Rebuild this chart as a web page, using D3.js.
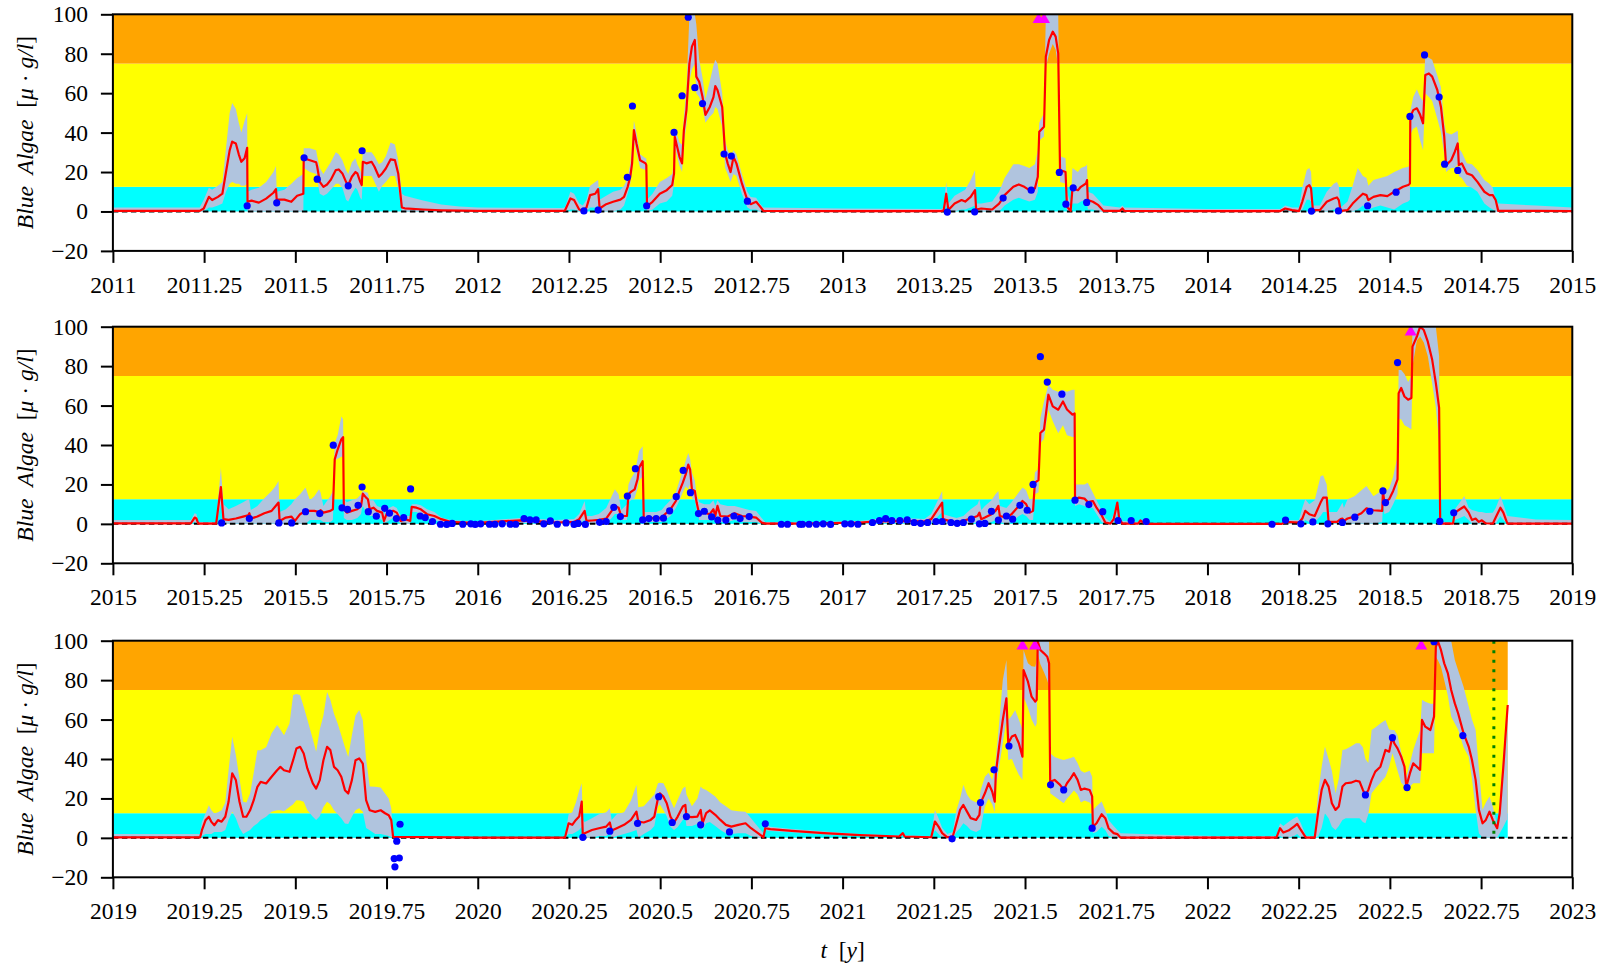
<!DOCTYPE html>
<html><head><meta charset="utf-8">
<script src="https://cdn.jsdelivr.net/npm/d3@7"></script>
<style>body{margin:0;background:#fff}</style>
</head><body>
<svg id="c" width="1603" height="965"></svg>
<script>
// ---------- data ----------
const panelRanges = [[2011, 2015], [2015, 2019], [2019, 2023]];
const yTickValues = [-20, 0, 20, 40, 60, 80, 100];
const bandLevels = [0, 12.5, 75, 100];
const bandColors = ["#00FFFF", "#FFFF00", "#FFA500"];
const dataEnd = 2022.823;
const forecastStart = 2022.785;
const exceedT = [2013.537, 2013.552, 2018.557, 2021.493, 2021.527, 2022.586];
const exceedLevel = 97.3;

// model run rows: [time, mean, lower, upper]
const run1 = [
[2011.000,0.3,0,2],[2011.238,0.3,0,2],[2011.249,1.5,0,6],[2011.263,7.4,2,12],[2011.272,5.8,2,11],
[2011.288,7.4,3,13],[2011.300,9,4,15],[2011.310,20,10,32],[2011.320,31,14,50],[2011.327,35.4,15,55],
[2011.337,34.5,14,52],[2011.345,29,14,45],[2011.352,25.2,13,40],[2011.361,27,13,46],[2011.368,32.3,14,50],
[2011.369,4.9,0,10],[2011.380,5.5,0,11],[2011.400,4.5,0,12],[2011.420,6.5,0,15],[2011.440,9.5,0,20],
[2011.447,11.3,0,23],[2011.449,6,0,10],[2011.470,6,0,11],[2011.489,4.9,0,14],[2011.505,8,0,17],
[2011.522,9,0,19],[2011.523,27,22,32],[2011.540,26,20,32],[2011.557,25,19,31],[2011.560,22.7,16,28],
[2011.567,15,9,22],[2011.577,12.5,8,19],[2011.587,13.7,9,22],[2011.597,16,11,25],[2011.611,21,14,30],
[2011.619,21.3,14,29],[2011.629,19.3,12,26],[2011.639,15,6,21],[2011.645,13.4,5,19],[2011.655,17.6,9,25],
[2011.665,20,12,27],[2011.670,19.3,11,24],[2011.678,15,7,21],[2011.682,13.4,6,19],[2011.685,25.2,18,31],
[2011.695,24.4,18,30],[2011.709,25.2,18,30],[2011.717,22.7,15,28],[2011.729,17.6,10,24],[2011.738,19.3,13,25],
[2011.748,21.8,15,28],[2011.761,26.4,18,35],[2011.773,26,18,34],[2011.782,19.3,12,26],[2011.792,2,0,9],
[2011.800,1.6,0,8],[2011.850,1,0,5.5],[2011.900,0.6,0,3.5],[2011.950,0.4,0,2.5],[2012.000,0.3,0,2],
[2012.230,0.3,0,1.8],[2012.239,0.5,0,2],[2012.254,6.6,1,10],[2012.264,5.8,1,9],[2012.278,1,0,4],
[2012.288,0.3,0,3],[2012.298,2,0,6],[2012.308,8.3,2,13],[2012.322,9,2,15],[2012.330,11.3,3,16],
[2012.334,1.5,0,6],[2012.352,3.7,0,8],[2012.371,4.9,0,10],[2012.391,6,1,11],[2012.401,7.4,3,13],
[2012.411,12.5,9,17],[2012.418,17.6,14,24],[2012.423,24.4,20,32],[2012.428,41.3,36,46],[2012.435,34.5,30,40],
[2012.445,26,22,29],[2012.460,24.4,21,27],[2012.462,23.5,20,27],[2012.464,2.7,0,6],[2012.479,4.9,1,9],
[2012.499,9,4,15],[2012.518,10.8,5,17],[2012.533,13.4,8,19],[2012.538,19.3,14,26],[2012.540,37.9,33,43],
[2012.553,27.7,23,35],[2012.560,24.4,20,34],[2012.565,41.3,35,48],[2012.572,51.4,44,62],[2012.580,75,66,99],
[2012.587,83.6,72,100],[2012.595,87,75,100],[2012.599,68.4,60,95],[2012.607,65.8,58,77],[2012.616,58.2,53,68],
[2012.624,49,45,57],[2012.636,53,48,66],[2012.646,58,50,74],[2012.651,63.6,53,77],[2012.657,61.6,52,75],
[2012.670,53,43,60],[2012.678,29.4,22,36],[2012.685,24.4,19,31],[2012.693,20,15,28],[2012.701,27.7,19,31],
[2012.709,24.4,18,29],[2012.724,14.2,9,19],[2012.739,5.8,2,10],[2012.748,3.7,1,7.4],[2012.763,4.9,1,7],
[2012.773,2.7,0,4],[2012.783,0.3,0,2],[2013.000,0.2,0,1.5],[2013.270,0.2,0,1.2],[2013.277,0.5,0,2],
[2013.284,9,3,15],[2013.290,0.7,0,4],[2013.307,4,0,8],[2013.326,5.8,1,10],[2013.336,5,1,11],
[2013.351,7.4,2,16],[2013.363,10.8,3,21],[2013.366,1,0,4],[2013.380,1.5,0,4],[2013.410,1,0,5],
[2013.429,4,0,10],[2013.444,8.3,3,17],[2013.468,12.5,6,24],[2013.483,13.7,7,24],[2013.498,12.5,6,23],
[2013.512,10.8,5,22],[2013.527,11.7,6,24],[2013.535,17.6,10,31],[2013.539,40.4,36,45],[2013.552,43,38,50],
[2013.557,78.5,73,100],[2013.566,87,80,100],[2013.576,91.2,85,100],[2013.584,88.7,82,100],[2013.591,80.2,73,100],
[2013.596,21,15,28],[2013.611,20,14,27],[2013.615,2.4,0,10],[2013.625,0.3,0,4],[2013.630,11.7,4,22],
[2013.645,10.8,4,20],[2013.653,12.5,5,22],[2013.667,14.2,6,23],[2013.670,15.9,6,24],[2013.672,5.8,1,10],
[2013.686,4.9,1,9],[2013.701,3.2,0,6],[2013.715,0.3,0,3],[2013.760,0.3,0,2],[2013.767,1.5,0,3],
[2013.772,0.3,0,2],[2014.000,0.2,0,1.3],[2014.200,0.2,0,1.2],[2014.213,1.5,0,3],[2014.232,0.7,0,2],
[2014.251,0.2,0,2],[2014.260,5,1,12],[2014.272,12.5,6,21],[2014.279,13.4,6,22],[2014.284,11.7,5,20],
[2014.289,0.7,0,3],[2014.308,0.7,0,3],[2014.327,4.9,0,10],[2014.346,6.6,1,14],[2014.355,7.1,1,15],
[2014.360,5.8,1,13],[2014.365,0.3,0,2],[2014.384,0.7,0,5],[2014.398,4,0,13],[2014.412,6.6,1,22],
[2014.426,9,3,18],[2014.436,8.3,2,17],[2014.441,5.8,1,13],[2014.455,7.4,2,16],[2014.474,8.3,3,17],
[2014.493,7.8,2,18],[2014.512,10,1,20],[2014.536,12.5,4,22],[2014.550,13.4,5,22.7],[2014.555,14.2,6,23],
[2014.556,48,39,51],[2014.564,51.4,42,58],[2014.574,52.3,43,62],[2014.583,49,36,58],[2014.591,44.7,31,56],
[2014.597,69.2,60,79],[2014.607,70,58,78],[2014.616,68.4,56,77],[2014.630,61.6,47,69],[2014.640,53,40,63],
[2014.649,37.9,29,45],[2014.654,23.5,20,40],[2014.668,26,22,39],[2014.678,30.3,22,40],[2014.686,34.5,24,41],
[2014.689,23.5,18,32],[2014.697,24.4,17,30],[2014.711,19.3,13,24.4],[2014.725,18.4,12,24],[2014.740,15,10,21],
[2014.759,10,4,16],[2014.773,8.3,2,14],[2014.782,8.3,1,12],[2014.790,5.8,0,6],[2014.797,0.3,0,4],
[2014.900,0.3,0,3],[2015.000,0.2,0,2]
];
const run2 = [
[2015.000,0.3,0,2],[2015.214,0.3,0,2],[2015.224,3.2,1,5.4],[2015.229,2.7,0,5],[2015.234,0.1,0,1],
[2015.283,0.1,0,1],[2015.296,18.7,10,28.5],[2015.303,2.4,0,10],[2015.317,2,0,7.4],[2015.337,2.7,0,9],
[2015.357,3.7,0,11],[2015.371,4.4,0,12.5],[2015.374,5.4,0,12],[2015.378,2.7,0,7],[2015.396,3.7,0,9],
[2015.415,5.4,0,13],[2015.435,6.6,0,16.7],[2015.445,8.8,0,19],[2015.454,10.8,0,21.7],[2015.457,1.5,0,6],
[2015.474,3.2,0,7.4],[2015.489,3.7,0,10],[2015.499,1.5,0,12.5],[2015.513,4.9,0,15],[2015.528,6.6,0,18.4],
[2015.540,6.6,2,12],[2015.552,6.6,2,14],[2015.565,6,2,17.5],[2015.569,7,2,16],[2015.577,5.7,1,9],
[2015.596,6.6,1,14],[2015.603,7.4,2,16.7],[2015.608,32.7,32,41],[2015.616,37.7,33,45],[2015.626,42.8,34,54.5],
[2015.631,44,34,53],[2015.633,7.4,3,12.5],[2015.641,5.7,2,11],[2015.655,6.6,2,12],[2015.670,7.4,3,13],
[2015.680,9,5,15],[2015.683,12.5,8,16],[2015.685,15.3,9,16.7],[2015.694,13.3,6,16],[2015.699,12.5,5,15.8],
[2015.704,7.4,4,12],[2015.714,8.2,4,12],[2015.724,6.6,3,9],[2015.738,5.7,2,8],[2015.743,1.5,0,5],
[2015.750,4.9,1,7.4],[2015.768,6.6,3,9],[2015.778,5.7,2,8],[2015.789,1.5,0,4],[2015.802,2.4,0,4],
[2015.815,1.5,0,4],[2015.819,8.6,6,10],[2015.832,8.2,6,10],[2015.844,7.4,5,9.5],[2015.861,4.9,3,7.4],
[2015.881,4,2,6],[2015.900,2.4,1,3.2],[2015.925,1,0,2],[2015.964,0.7,0,1.5],[2016.000,0.5,0,1.3],
[2016.117,1.8,0.5,3],[2016.166,1.3,0.3,2.5],[2016.215,0.7,0,2],[2016.264,1,0,2.5],[2016.278,2.4,0,5],
[2016.293,6.6,2,11.6],[2016.298,1.5,0,4],[2016.313,1.7,0,4],[2016.332,2,0,5],[2016.352,2.7,0,8],
[2016.367,6.6,3,14],[2016.376,9.1,5,17.5],[2016.386,8.2,5,15],[2016.393,4,2,7],[2016.409,4,2,10],
[2016.413,15,11,20],[2016.420,16.2,12,23],[2016.430,17.5,13,26],[2016.438,22.6,18,33],[2016.442,28.5,22,37],
[2016.452,31.8,24,39.4],[2016.455,2.4,0,6],[2016.469,3.2,1,6],[2016.489,2.7,1,6],[2016.504,3.2,1,7],
[2016.513,4.9,2,9],[2016.528,7.4,4,12],[2016.543,11.6,8,16],[2016.553,16.7,12,22],[2016.562,20.9,16,27],
[2016.570,25.1,19,32],[2016.577,30.1,17.5,36],[2016.582,27.6,20,33],[2016.587,17.5,13,26],[2016.595,16.7,12,22],
[2016.600,10.8,7,15],[2016.607,4.9,2,11],[2016.621,5.7,2,10],[2016.636,4.9,2,10],[2016.646,7.4,3,12],
[2016.651,4,1,9],[2016.657,9.1,4,12],[2016.665,4,1,10],[2016.685,3.7,1,9],[2016.704,5.4,2,9],
[2016.724,4,1,8],[2016.744,3.7,1,7],[2016.763,3.2,1,6.5],[2016.778,0.7,0,3],[2016.788,0.1,0,1],
[2016.900,0.1,0,0.8],[2017.047,0.7,0,1.5],[2017.096,1.3,0.3,2.5],[2017.175,1.5,0.3,2.8],[2017.224,1.2,0.2,2.5],
[2017.243,2.4,0.5,5],[2017.273,10.8,6,16.7],[2017.275,2.4,0.5,5],[2017.292,1.5,0,4],[2017.312,0.7,0,3],
[2017.331,1.5,0,4],[2017.351,2.7,0,7.4],[2017.370,4,1,10],[2017.375,5.7,2,12.5],[2017.380,2.4,0,7],
[2017.390,3.2,0,9],[2017.408,4.9,1,12],[2017.419,6.6,2,15],[2017.427,9.1,3,16.7],[2017.431,4,1,9],
[2017.449,3.2,0,8],[2017.463,4.9,1,11],[2017.483,9.1,4,16],[2017.493,11.6,5,18.4],[2017.503,10,4,17],
[2017.513,5.7,2,12],[2017.522,6.6,2,13],[2017.527,20.9,15,26],[2017.537,22.2,16,28],[2017.542,46.1,41,53.7],
[2017.552,47.8,43,62],[2017.564,65.5,58,70.5],[2017.576,59.6,52,68],[2017.591,57.9,46,67],[2017.604,62.1,50,68],
[2017.615,58,45,67],[2017.630,55.4,44,68],[2017.636,56,44,68],[2017.637,12.5,9,20],[2017.648,13.3,10,20],
[2017.663,12.8,9,20],[2017.672,11.1,8,20.9],[2017.686,11.6,8,15.8],[2017.696,8.2,5,12],[2017.710,4.4,1,7],
[2017.720,0.7,0,3],[2017.734,0.1,0,1],[2017.743,2.4,0,5],[2017.753,10.8,5,12],[2017.758,2.7,0,5],
[2017.767,0.1,0,1.5],[2017.810,0.1,0,1],[2017.816,1.7,0,2.4],[2017.824,0.7,0,1.5],[2017.833,0,0,0.5],
[2018.204,0,0,0.5],[2018.213,1,0,2],[2018.251,0.7,0,2],[2018.260,2.7,0,8],[2018.268,6.6,2,12.5],
[2018.279,4.9,1,10],[2018.294,4,1,12],[2018.310,10.8,4,24.2],[2018.317,13.3,6,24.7],[2018.327,13.3,6,20],
[2018.332,1,0,6],[2018.355,1,0,6],[2018.365,2.4,0,9],[2018.370,2.7,0,10.8],[2018.374,1.5,0,8],
[2018.384,2.7,0,12.5],[2018.403,3.7,0,14],[2018.422,5.4,0,17],[2018.436,7.9,0,19.2],[2018.455,6.9,0,14],
[2018.479,6.6,1,17],[2018.481,16.7,11,20],[2018.485,10.8,5,16],[2018.498,12.5,6,18],[2018.509,16.7,10,24],
[2018.521,22.6,15,34.3],[2018.524,66.3,53,78],[2018.531,68.9,53,78],[2018.540,64.6,50,76],[2018.550,63,49,72],
[2018.559,63.8,47.8,74.7],[2018.562,89.9,80,100],[2018.574,95,93,100],[2018.583,100,95,100],[2018.593,98.3,92,100],
[2018.604,92.4,85,100],[2018.616,83.2,71,100],[2018.626,71.4,59,100],[2018.635,58.8,41,85],[2018.638,0.1,0,1],
[2018.673,0.1,0,1],[2018.678,5.7,2,7.4],[2018.692,7.4,3,11],[2018.704,8.8,4,14.1],[2018.716,5.7,2,8.2],
[2018.725,2,0,7],[2018.735,2.7,0,6.5],[2018.744,1,0,6],[2018.752,1.8,0,6],[2018.763,0.3,0,5.5],
[2018.782,0.1,0,5.7],[2018.790,3.2,0,8],[2018.803,8.2,4,14.1],[2018.811,5.7,2,10],[2018.822,0.1,0,4],
[2018.900,0.1,0,2.2],[2019.000,0.1,0,2]
];
const run3 = [
[2019.000,0.2,0,1.9],[2019.239,0.2,0,1.9],[2019.244,3.9,1,8],[2019.254,9,2,12.4],[2019.263,10.7,2,16.6],
[2019.270,8.1,2,14],[2019.278,6.4,3,12.4],[2019.288,9,3,13],[2019.298,8.2,3,14],[2019.308,10.7,4,18],
[2019.317,18.3,9,34.3],[2019.327,32.7,13.2,51.3],[2019.337,29.3,10,42],[2019.347,18.3,5,30],[2019.357,10.7,2,18.3],
[2019.366,10.7,3,18],[2019.376,14,4,22.5],[2019.386,19.1,6,33],[2019.396,25.9,7.3,44.5],[2019.405,28.4,9,44.5],
[2019.420,27.6,10.7,46],[2019.435,31,13.2,53],[2019.450,34.3,14,57.2],[2019.459,36,14,55],[2019.469,34.3,13.5,52],
[2019.484,33.5,15.7,58],[2019.494,39.4,17,72.4],[2019.503,45.3,19.1,73],[2019.513,46.2,19,72.4],[2019.523,42.8,18.3,66.5],
[2019.533,35.2,14,60],[2019.548,27.6,10.7,50],[2019.557,25,9,43.7],[2019.567,29.3,11,55],[2019.577,39.4,15.7,62],
[2019.587,46.2,18.3,74],[2019.596,44.5,17,70],[2019.606,36,14,63],[2019.616,34.3,12,58],[2019.626,31,10,52],
[2019.636,24.2,7.3,46],[2019.645,22.5,7,41],[2019.655,29.3,10.7,52],[2019.665,39.4,14,62],[2019.675,40.3,15,64.8],
[2019.685,37.7,13.2,59.7],[2019.694,19.1,5,40],[2019.704,14,3.9,26],[2019.719,13.2,2,25.9],[2019.734,14,2,25.5],
[2019.746,12.5,1.5,22.5],[2019.756,11.5,1,20],[2019.763,9,0.5,15],[2019.768,0.5,0,1],[2020.000,0.1,0,0.5],
[2020.239,0.1,0,0.5],[2020.249,7.4,2,12],[2020.259,6.6,2,13],[2020.269,9.1,3,18],[2020.278,10.8,4,24],
[2020.285,18.4,5.7,27.7],[2020.288,0.7,0,9],[2020.293,2.4,0,8],[2020.313,4,0,10],[2020.332,4.9,1,12],
[2020.352,5.7,1,13],[2020.362,7.8,2.4,15],[2020.367,3.7,0,9],[2020.381,4.9,1,12],[2020.401,6.6,2,13],
[2020.420,9.1,3,19],[2020.435,13.3,4,26.9],[2020.440,8.3,0,15.5],[2020.455,7.8,2,16],[2020.474,9.1,4,20],
[2020.484,10.8,6,22],[2020.494,20.1,15.9,27.7],[2020.499,22.6,17,28],[2020.509,20.9,14,27.7],[2020.518,17.6,11,24.3],
[2020.528,10.8,5.7,19.3],[2020.538,7.8,4,15],[2020.548,10.8,5.5,19.3],[2020.562,15.9,9,25],[2020.569,16.7,10,26],
[2020.572,10.8,6,22],[2020.587,10.5,6,16],[2020.602,10.8,7,20],[2020.611,14.2,9,26],[2020.616,7.4,4,25],
[2020.626,12.5,7.4,24.3],[2020.636,13.9,8,23],[2020.651,11.7,6,21],[2020.665,9.1,4,18],[2020.680,6.6,2.4,16],
[2020.695,5.7,2,14],[2020.714,6.6,2.4,13.5],[2020.734,7.4,2.4,13.3],[2020.749,4.9,1,10],[2020.768,2.4,0,5.7],
[2020.783,0.3,0,2.4],[2020.788,4.9,4,6.5],[2020.802,4.4,3.5,5.7],[2020.861,3.5,2.8,4.5],[2020.949,2.4,1.8,3.2],
[2021.047,1.4,1,2],[2021.155,0.7,0.4,1.2],[2021.165,2.4,1.5,3],[2021.170,0.7,0.4,1.2],[2021.243,0.3,0,1],
[2021.253,8.3,4,14.2],[2021.263,5.7,2,10],[2021.273,2.4,0,5],[2021.287,0.3,0,2],[2021.302,0.7,0,3],
[2021.312,7.4,3,14],[2021.322,14.2,5,20],[2021.331,16.7,7.4,26.9],[2021.341,13.3,6,22],[2021.351,10,4,19.3],
[2021.366,9.1,3,18],[2021.375,11.7,4,19.3],[2021.378,17.6,4.1,24],[2021.390,22.6,15.9,31],[2021.400,27.7,20,33],
[2021.410,23.5,17,29.4],[2021.417,18.4,13,36],[2021.420,32.8,26,40],[2021.429,46.3,36,58],[2021.439,59.8,48,80],
[2021.449,70.8,59.8,90.2],[2021.454,48,39.5,59.8],[2021.464,51.4,40,62],[2021.473,52.2,36,64.9],[2021.483,48,32,60],
[2021.493,41.2,29.4,55],[2021.496,85.1,71.6,95.3],[2021.508,79.2,66,88.5],[2021.518,71.6,60,87],[2021.528,69.1,56.4,86.8],
[2021.532,70,58,90],[2021.535,99.5,93.6,100],[2021.542,95.3,88,100],[2021.552,93.6,84,100],[2021.561,91.9,80,100],
[2021.566,88.5,76.7,100],[2021.569,28.5,22.6,42.9],[2021.581,29.4,21,41],[2021.596,26.9,19,40],[2021.606,24.3,17.6,39.5],
[2021.615,27.7,20,40],[2021.625,30.2,22,40.5],[2021.634,32.8,24,41.2],[2021.644,29.4,22,38],[2021.653,24.3,18,34],
[2021.663,25,19,33],[2021.677,24.3,18,34],[2021.684,21,16,31],[2021.686,5.7,2.4,14],[2021.696,7.4,3,16],
[2021.710,12,5.7,18.4],[2021.720,10,4,14],[2021.729,4.9,1,9],[2021.743,2.4,0,6],[2021.753,1.9,0,4],
[2021.762,0.1,0,2.4],[2021.900,0.1,0,1.5],[2022.050,0.1,0,0.8],[2022.189,0.1,0,1],[2022.199,4.9,1,7.4],
[2022.208,2.7,0,6],[2022.222,3.7,0,8],[2022.237,5.7,1,10],[2022.246,7.1,2,10.8],[2022.256,4,0,7.4],
[2022.270,0.1,0,1],[2022.294,0.1,0,1],[2022.303,12.5,0.7,22.6],[2022.313,24.3,5,36],[2022.322,29.4,12.5,46.3],
[2022.332,26,10,40],[2022.341,17.6,5.7,34],[2022.351,14.2,4,22.6],[2022.360,15.9,6,30],[2022.370,26,9.1,44.6],
[2022.379,27.7,10,45],[2022.393,28,10,46.3],[2022.407,29,10,48],[2022.417,28.5,10,48],[2022.426,24.3,8,46],
[2022.433,21.8,7.4,40],[2022.441,24.3,12,38],[2022.450,29.4,22.6,54.7],[2022.460,33.6,25,56],[2022.474,36.1,28,58],
[2022.488,44.6,31,59.8],[2022.498,43.7,36,55],[2022.507,51.4,42.9,54.7],[2022.512,48,40,54.7],[2022.521,45.4,34,52],
[2022.531,41.2,28,43.5],[2022.540,36.1,26,38],[2022.545,26,24,31],[2022.555,32.8,26,38],[2022.564,37.8,27.7,44.6],
[2022.574,36.1,27.7,50],[2022.583,34.5,27.7,54.7],[2022.588,59.8,42.9,70],[2022.597,56.4,42.9,69],[2022.611,54.7,42.9,68],
[2022.621,61.5,42.9,68],[2022.626,97,91.9,100],[2022.632,99.5,90,100],[2022.640,95.3,86.8,100],[2022.649,88.5,80,100],
[2022.659,83.4,72,100],[2022.668,75,61.5,100],[2022.678,68.2,58,90.2],[2022.687,63.2,55,85],[2022.702,53,46,76.7],
[2022.716,46.3,41.2,66.6],[2022.725,39.5,30,60],[2022.735,29.4,14.2,54.7],[2022.744,14.2,2.4,35],[2022.754,7.4,0,14.2],
[2022.763,9.1,0,18],[2022.773,13.3,0,21],[2022.782,9.1,0,16],[2022.794,4.9,0,6.5],[2022.801,12.5,2.4,18],
[2022.811,36.1,5.7,42],[2022.820,59.8,9.1,64],[2022.823,67.4,9.1,68]
];

// observations
const obsT = [
2011.368,2011.449,2011.524,2011.560,2011.645,2011.683,2012.291,2012.330,2012.410,2012.424,2012.463,2012.538,
2012.560,2012.577,2012.595,2012.616,2012.675,2012.695,2012.739,2013.287,2013.362,2013.440,2013.517,2013.594,
2013.612,2013.632,2013.669,2014.285,2014.359,2014.439,2014.517,2014.555,2014.595,2014.635,2014.650,2014.686,
2015.298,2015.374,2015.455,2015.490,2015.528,2015.567,2015.604,2015.628,2015.643,2015.672,2015.683,2015.700,
2015.722,2015.745,2015.758,2015.777,2015.797,2015.816,2015.842,2015.856,2015.876,2015.898,2015.915,2015.930,
2015.959,2015.981,2015.993,2016.008,2016.032,2016.047,2016.067,2016.089,2016.104,2016.127,2016.143,2016.160,
2016.181,2016.199,2016.218,2016.242,2016.264,2016.275,2016.295,2016.334,2016.352,2016.373,2016.391,2016.410,
2016.432,2016.452,2016.469,2016.489,2016.509,2016.526,2016.544,2016.563,2016.583,2016.605,2016.621,2016.641,
2016.658,2016.680,2016.702,2016.719,2016.744,2016.832,2016.849,2016.883,2016.890,2016.908,2016.928,2016.947,
2016.967,2017.006,2017.023,2017.042,2017.082,2017.101,2017.118,2017.135,2017.157,2017.177,2017.196,2017.214,
2017.233,2017.256,2017.273,2017.297,2017.314,2017.331,2017.353,2017.375,2017.390,2017.408,2017.427,2017.449,
2017.466,2017.486,2017.506,2017.522,2017.542,2017.561,2017.601,2017.637,2017.675,2017.713,2017.755,2017.791,
2017.832,2018.177,2018.214,2018.256,2018.289,2018.330,2018.370,2018.404,2018.445,2018.481,2018.488,2018.521,
2018.637,2018.675,
2019.771,2019.773,2019.778,2019.785,2019.787,2020.288,2020.362,2020.438,2020.496,2020.533,2020.572,2020.611,
2020.690,2020.788,2021.300,2021.378,2021.415,2021.456,2021.570,2021.606,2021.684,2022.433,2022.507,2022.547,
2022.621,2022.700
];
const obsV = [
2.9,4.4,27.2,16.4,13,30.8,0.3,0.7,17.3,53.5,2.9,40.1,
58.7,98.5,62.8,54.7,29.1,28.1,5.2,-0.3,-0.2,6.8,10.8,19.8,
3.7,12,4.6,0.2,0.3,2.9,9.8,48.2,79.4,58,24,20.8,
0.5,2.7,0.5,0.5,6.2,5.2,39.9,8.1,7.4,9.4,18.7,6.2,
3.9,7.9,5.4,2.7,3.2,17.7,4,3.2,1.2,-0.2,-0.3,0.2,
-0.2,0,-0.3,0,-0.2,-0.2,0,-0.2,-0.2,2.7,2,2,
0,1.5,-0.2,0.5,-0.3,0.2,-0.3,0.8,1.2,8.4,3.7,14.1,
28,2,2.7,2.7,2.9,6.6,13.8,27.1,15.8,5.2,6.4,3.5,
1.9,1.9,4,2.7,3.7,-0.2,-0.2,-0.2,-0.2,-0.2,-0.2,0,
-0.3,0,0,-0.2,0.7,1.7,2.7,1.7,1.7,2,0.7,0.3,
0.7,1.2,1.2,0.7,0.3,0.7,2.4,0,0.2,6.4,1.9,4,
2.4,9.4,6.9,20,84.8,71.9,65.8,12,9.8,6.2,1.7,1.7,
1.2,-0.2,1.9,0,1,0,0.7,3.4,6.4,16.7,10.8,81.8,
1.3,5.6,
-10.5,-14.7,-1.7,-10.2,6.9,0.3,3.4,7.4,20.9,7.8,10.8,6.6,
3,7.1,-0.5,17.9,34.5,46.6,26.9,24.3,4.9,21.8,50.8,25.5,
99.5,51.9
];

// ---------- layout ----------
const svg = d3.select("#c");
const X0 = 112.9, X1 = 1572.3, PH = 236.6;
const panelTops = [14.3, 326.7, 640.7];
const runs = [run1, run2, run3];
const FONT = 23.5;
const FAMILY = "'Liberation Serif', serif";

panelTops.forEach((top, i) => {
  const [a, b] = panelRanges[i];
  const x = d3.scaleLinear().domain([a, b]).range([X0, X1]);
  const y = d3.scaleLinear().domain([-20, 100]).range([top + PH, top]);
  const g = svg.append("g");
  const clipId = "clip" + i;
  svg.append("clipPath").attr("id", clipId).append("rect")
    .attr("x", X0).attr("y", top).attr("width", X1 - X0).attr("height", PH);
  const pg = g.append("g").attr("clip-path", `url(#${clipId})`);

  // risk bands
  const bEnd = Math.min(b, dataEnd);
  bandColors.forEach((col, k) => {
    pg.append("rect")
      .attr("x", x(a)).attr("width", x(bEnd) - x(a))
      .attr("y", y(bandLevels[k + 1])).attr("height", y(bandLevels[k]) - y(bandLevels[k + 1]))
      .attr("fill", col);
  });

  // uncertainty band
  const data = runs[i];
  pg.append("path").datum(data)
    .attr("fill", "#B0C4DE")
    .attr("d", d3.area().x(d => x(d[0])).y0(d => y(d[2])).y1(d => y(d[3])));

  // zero line
  pg.append("line").attr("x1", X0).attr("x2", X1).attr("y1", y(0)).attr("y2", y(0))
    .attr("stroke", "#000").attr("stroke-width", 2).attr("stroke-dasharray", "5.5,3.5");

  // mean
  pg.append("path").datum(data)
    .attr("fill", "none").attr("stroke", "#FF0000").attr("stroke-width", 2.2)
    .attr("stroke-linejoin", "round")
    .attr("d", d3.line().x(d => x(d[0])).y(d => y(d[1])));

  // observations
  const obs = obsT.map((t, k) => [t, obsV[k]]).filter(d => d[0] >= a && d[0] <= b);
  pg.selectAll("circle.o").data(obs).enter().append("circle")
    .attr("cx", d => x(d[0])).attr("cy", d => y(d[1])).attr("r", 3.6).attr("fill", "#0000FF");

  // exceedances
  const ex = exceedT.filter(t => t >= a && t <= b);
  pg.selectAll("path.tri").data(ex).enter().append("path")
    .attr("transform", d => `translate(${x(d)},${y(exceedLevel)})`)
    .attr("d", d3.symbol(d3.symbolTriangle, 62)).attr("fill", "#FF00FF");

  // forecast start
  if (forecastStart >= a && forecastStart <= b) {
    pg.append("line").attr("x1", x(forecastStart)).attr("x2", x(forecastStart))
      .attr("y1", y(100)).attr("y2", y(0))
      .attr("stroke", "#008000").attr("stroke-width", 3).attr("stroke-dasharray", "3,6.5");
  }

  // axes
  const xt = d3.range(0, 17).map(k => a + k * 0.25);
  const xa = g.append("g").attr("transform", `translate(0,${top + PH})`)
    .call(d3.axisBottom(x).tickValues(xt).tickFormat(d => String(+d.toFixed(2)))
      .tickSize(12).tickSizeOuter(0).tickPadding(13));
  const ya = g.append("g").attr("transform", `translate(${X0},0)`)
    .call(d3.axisLeft(y).tickValues(yTickValues).tickSize(12).tickSizeOuter(0).tickPadding(13));
  [xa, ya].forEach(ax => {
    ax.attr("font-family", null);
    ax.select(".domain").remove();
    ax.selectAll(".tick line").attr("stroke", "#000").attr("stroke-width", 2);
    ax.selectAll("text").attr("fill", "#000")
      .style("font-family", FAMILY).style("font-size", FONT + "px");
  });

  // frame
  g.append("rect").attr("x", X0).attr("y", top).attr("width", X1 - X0).attr("height", PH)
    .attr("fill", "none").attr("stroke", "#000").attr("stroke-width", 2);

  // y label
  const yl = g.append("text")
    .attr("transform", `translate(25,${top + PH / 2}) rotate(-90)`)
    .attr("text-anchor", "middle").attr("dominant-baseline", "central")
    .attr("fill", "#000")
    .style("font-family", FAMILY).style("font-size", FONT + "px").style("white-space", "pre");
  yl.append("tspan").attr("font-style", "italic").text("Blue");
  yl.append("tspan").text("  ");
  yl.append("tspan").attr("font-style", "italic").text("Algae");
  yl.append("tspan").text("  [");
  yl.append("tspan").attr("font-style", "italic").text("μ");
  yl.append("tspan").text(" · ");
  yl.append("tspan").attr("font-style", "italic").text("g/l");
  yl.append("tspan").text("]");
});

// x label
const xl = svg.append("text").attr("x", (X0 + X1) / 2).attr("y", 958)
  .attr("text-anchor", "middle").attr("fill", "#000")
  .style("font-family", FAMILY).style("font-size", FONT + "px").style("white-space", "pre");
xl.append("tspan").attr("font-style", "italic").text("t");
xl.append("tspan").text("  [");
xl.append("tspan").attr("font-style", "italic").text("y");
xl.append("tspan").text("]");
</script>
</body></html>
